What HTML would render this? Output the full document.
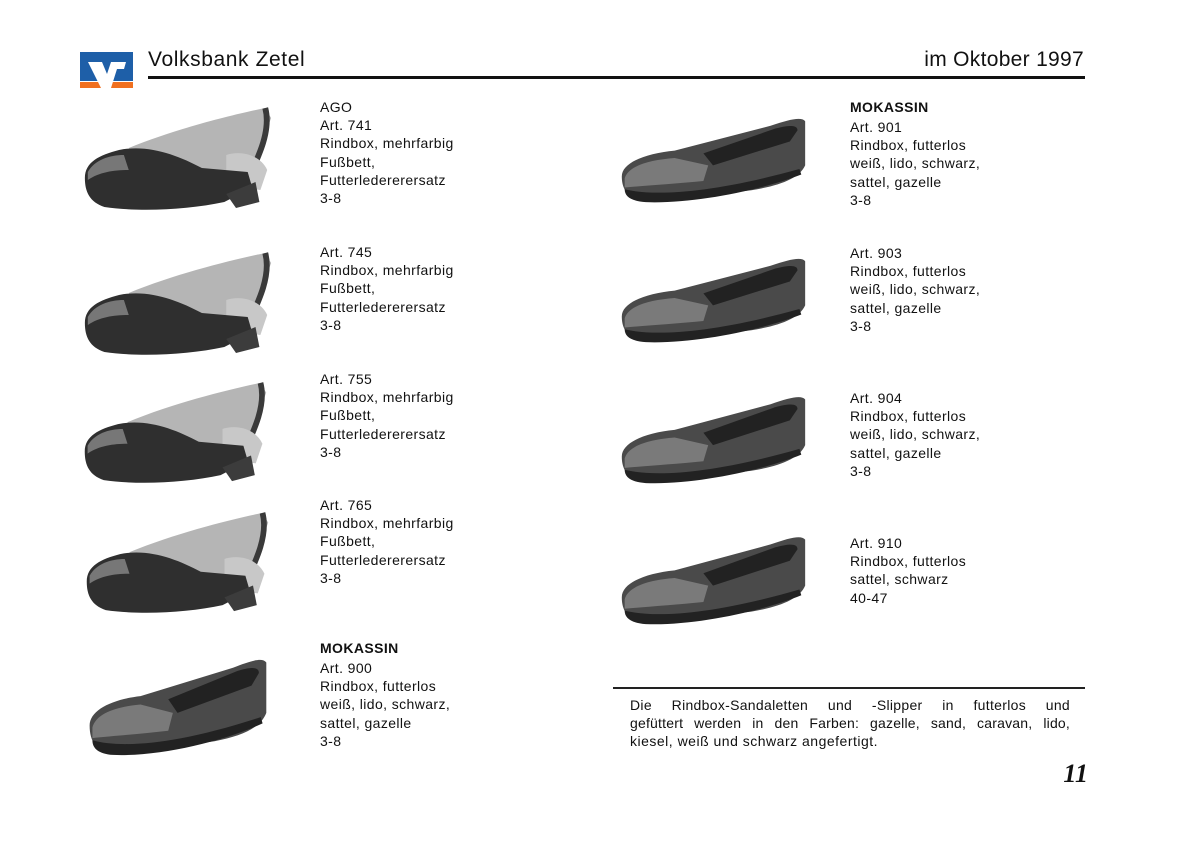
<!DOCTYPE html>
<html><head><meta charset="utf-8"><style>
body{margin:0;background:#fff;width:1189px;height:841px;position:relative;overflow:hidden;font-family:"Liberation Sans","DejaVu Sans",sans-serif;color:#111}
.t{position:absolute;font-size:14px;line-height:18.2px;letter-spacing:0.4px;white-space:nowrap}
.b{font-weight:bold}
svg.s{position:absolute}
.j{position:absolute;left:630px;width:440px;font-size:14px;line-height:18px;white-space:nowrap;text-align:justify;text-align-last:justify;letter-spacing:0.3px}
</style></head><body>
<svg width="0" height="0" style="position:absolute">
<defs>
<symbol id="sandal" viewBox="0 0 200 112" preserveAspectRatio="none">
<path d="M50,48 C100,28 160,14 190,8 L196,18 C188,40 178,62 172,82 L60,82 Z" fill="#b5b5b5"/>
<path d="M172,80 C184,55 196,30 190,8" stroke="#3a3a3a" stroke-width="6" fill="none"/>
<path d="M150,55 C165,50 185,55 192,70 L185,90 L150,85 Z" fill="#c8c8c8"/>
<path d="M5,78 C5,62 20,55 40,50 C70,44 100,55 125,68 L172,72 L178,92 L160,96 L148,102 C110,110 60,112 25,107 C10,102 5,92 5,78 Z" fill="#2f2f2f"/>
<path d="M8,72 C15,60 30,55 45,55 L50,70 C35,70 20,72 8,80 Z" fill="#777"/>
<path d="M150,94 L180,82 L184,102 L160,108 Z" fill="#3c3c3c"/>
</symbol>
<symbol id="loafer" viewBox="0 0 200 100" preserveAspectRatio="none">
<path d="M5,70 C5,55 30,45 60,42 L160,15 C180,8 192,5 196,10 L196,58 C190,72 170,80 140,85 L40,97 C12,98 5,85 5,70 Z" fill="#4a4a4a"/>
<path d="M90,45 L165,18 C180,14 188,14 188,20 L180,32 L100,58 Z" fill="#222"/>
<path d="M8,72 C12,58 35,52 60,50 L95,58 L90,75 C60,78 30,80 8,82 Z" fill="#7a7a7a"/>
<path d="M8,84 C40,92 100,88 190,62 L192,68 C150,85 80,100 30,98 C15,97 8,92 8,84 Z" fill="#222"/>
</symbol>
</defs>
</svg>

<!-- header -->
<div style="position:absolute;left:80px;top:52px;width:53px;height:29px;background:#1e5fa8"></div>
<div style="position:absolute;left:80px;top:82px;width:53px;height:6px;background:#f07020"></div>
<svg class="s" style="left:80px;top:52px" width="53" height="36" viewBox="0 0 53 36">
<path d="M8,10 L22,10 L27,22 L31,10 L46,10 L44,17 L37,17 L31,36 L21,36 Z" fill="#fff"/>
</svg>
<div class="t" style="left:148px;top:46px;font-size:21px;line-height:28px;letter-spacing:0.6px">Volksbank Zetel</div>
<div class="t" style="right:105px;top:46px;font-size:21px;line-height:28px;letter-spacing:0.3px">im Oktober 1997</div>
<div style="position:absolute;left:148px;top:76px;width:937px;height:3px;background:#111"></div>

<!-- left shoes -->
<svg class="s" style="left:80px;top:100px" width="195" height="112"><use href="#sandal"/></svg>
<svg class="s" style="left:80px;top:245px" width="195" height="112"><use href="#sandal"/></svg>
<svg class="s" style="left:80px;top:375px" width="190" height="110"><use href="#sandal"/></svg>
<svg class="s" style="left:82px;top:505px" width="190" height="110"><use href="#sandal"/></svg>
<svg class="s" style="left:85px;top:652px" width="185" height="105"><use href="#loafer"/></svg>

<!-- right shoes -->
<svg class="s" style="left:617px;top:112px" width="192" height="92"><use href="#loafer"/></svg>
<svg class="s" style="left:617px;top:252px" width="192" height="92"><use href="#loafer"/></svg>
<svg class="s" style="left:617px;top:390px" width="192" height="95"><use href="#loafer"/></svg>
<svg class="s" style="left:617px;top:530px" width="192" height="96"><use href="#loafer"/></svg>

<!-- left text -->
<div class="t" style="left:320px;top:98px">AGO<br>Art. 741<br>Rindbox, mehrfarbig<br>Fußbett,<br>Futterledererersatz<br>3-8</div>
<div class="t" style="left:320px;top:243px">Art. 745<br>Rindbox, mehrfarbig<br>Fußbett,<br>Futterledererersatz<br>3-8</div>
<div class="t" style="left:320px;top:370px">Art. 755<br>Rindbox, mehrfarbig<br>Fußbett,<br>Futterledererersatz<br>3-8</div>
<div class="t" style="left:320px;top:496px">Art. 765<br>Rindbox, mehrfarbig<br>Fußbett,<br>Futterledererersatz<br>3-8</div>
<div class="t b" style="left:320px;top:639px">MOKASSIN</div>
<div class="t" style="left:320px;top:659px">Art. 900<br>Rindbox, futterlos<br>weiß, lido, schwarz,<br>sattel, gazelle<br>3-8</div>

<!-- right text -->
<div class="t b" style="left:850px;top:98px">MOKASSIN</div>
<div class="t" style="left:850px;top:118px">Art. 901<br>Rindbox, futterlos<br>weiß, lido, schwarz,<br>sattel, gazelle<br>3-8</div>
<div class="t" style="left:850px;top:244px">Art. 903<br>Rindbox, futterlos<br>weiß, lido, schwarz,<br>sattel, gazelle<br>3-8</div>
<div class="t" style="left:850px;top:389px">Art. 904<br>Rindbox, futterlos<br>weiß, lido, schwarz,<br>sattel, gazelle<br>3-8</div>
<div class="t" style="left:850px;top:534px">Art. 910<br>Rindbox, futterlos<br>sattel, schwarz<br>40-47</div>

<!-- bottom -->
<div style="position:absolute;left:613px;top:687px;width:472px;height:2px;background:#222"></div>
<div class="j" style="top:696px">Die Rindbox-Sandaletten und -Slipper in futterlos und</div>
<div class="j" style="top:714px;letter-spacing:0.2px">gefüttert werden in den Farben: gazelle, sand, caravan, lido,</div>
<div class="t" style="left:630px;top:732px;letter-spacing:0.5px">kiesel, weiß und schwarz angefertigt.</div>
<div class="t" style="right:101px;top:759px;font-family:'Liberation Serif',serif;font-weight:bold;font-style:italic;font-size:26px;line-height:30px;letter-spacing:0">11</div>
</body></html>
